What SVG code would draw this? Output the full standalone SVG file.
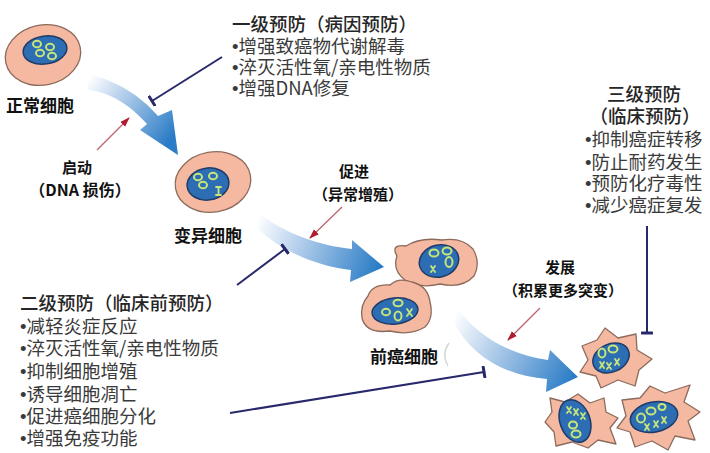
<svg xmlns="http://www.w3.org/2000/svg" width="710" height="453" viewBox="0 0 710 453">
<style>
.cell{fill:#f5b9a2;stroke:#8c6b5c;stroke-width:1.3;stroke-linejoin:round}
.nuc{fill:#2d6db3;stroke:#1f3b68;stroke-width:1.5}
.ring{fill:none;stroke:#c6e67a;stroke-width:2}
.chr{fill:none;stroke:#c6e67a;stroke-width:1.8;stroke-linecap:round}
.ptxt{font-family:"Noto Sans CJK SC","Noto Sans",sans-serif;font-size:18.5px;fill:#3a3a3a}
.phead{font-family:"Noto Sans CJK SC","Noto Sans",sans-serif;font-size:18.5px;fill:#262626;font-weight:500}
.b{font-family:"Liberation Sans",Arial,sans-serif}
.lbl{font-family:"Noto Sans CJK SC","Noto Sans",sans-serif;font-weight:bold;fill:#111;text-anchor:middle}
.bar{fill:none;stroke:#28286c;stroke-width:2;marker-end:url(#barEnd)}
.red{fill:none;stroke:#bd6470;stroke-width:1.3;marker-end:url(#redHead)}
</style>
<defs>
<linearGradient id="g1" gradientUnits="userSpaceOnUse" x1="88" y1="80" x2="170" y2="140">
<stop offset="0" stop-color="#ffffff"/><stop offset="0.35" stop-color="#b7d0ec"/><stop offset="1" stop-color="#2a7cc6"/>
</linearGradient>
<linearGradient id="g2" gradientUnits="userSpaceOnUse" x1="257" y1="220" x2="380" y2="265">
<stop offset="0" stop-color="#ffffff"/><stop offset="0.35" stop-color="#b7d0ec"/><stop offset="1" stop-color="#2a7cc6"/>
</linearGradient>
<linearGradient id="g3" gradientUnits="userSpaceOnUse" x1="455" y1="314" x2="575" y2="377">
<stop offset="0" stop-color="#ffffff"/><stop offset="0.35" stop-color="#b7d0ec"/><stop offset="1" stop-color="#2a7cc6"/>
</linearGradient>
<marker id="barEnd" viewBox="-3 -6 6 12" refX="0" refY="0" markerUnits="userSpaceOnUse" markerWidth="6" markerHeight="12" orient="auto">
<path d="M0,-5 L0,5" stroke="#28286c" stroke-width="3" stroke-linecap="round"/>
</marker>
<marker id="redHead" viewBox="0 -4 10 8" refX="9" refY="0" markerUnits="userSpaceOnUse" markerWidth="10" markerHeight="8" orient="auto">
<path d="M0,-3.5 L10,0 L0,3.5 Z" fill="#b01c30"/>
</marker>
</defs>
<rect width="710" height="453" fill="#ffffff"/>

<g id="flow-arrows">
<path d="M 88,74 C 115,80 140,95 158,116 L 172,110 L 178,155 L 140,130 L 147,124 C 130,105 110,92 88,90 Z" fill="url(#g1)"/>
<path d="M 257,211 C 280,232 320,246 352,249 L 352,240 L 384,267 L 350,282 L 351,270 C 315,266 280,250 257,228 Z" fill="url(#g2)"/>
<path d="M 456,306 C 475,335 510,355 548,360 L 550,350 L 578,377 L 546,392 L 547,379 C 505,376 470,355 454,322 Z" fill="url(#g3)"/>
</g>

<g id="normal-cell">
<ellipse class="cell" cx="43" cy="55" rx="38" ry="30" transform="rotate(-12 43 55)"/>
<ellipse class="nuc" cx="45" cy="50" rx="22" ry="14" transform="rotate(-8 45 50)"/>
<ellipse class="ring" cx="37" cy="44" rx="4" ry="3.3"/>
<ellipse class="ring" cx="50" cy="47" rx="4" ry="3.3"/>
<ellipse class="ring" cx="40" cy="53" rx="4" ry="3.3"/>
<ellipse class="ring" cx="52" cy="56" rx="4" ry="3.3"/>
<text class="lbl" x="40" y="112" font-size="17">正常细胞</text>
</g>

<g id="mutant-cell">
<ellipse class="cell" cx="213" cy="182" rx="38" ry="30" transform="rotate(-10 213 182)"/>
<ellipse class="nuc" cx="208" cy="184" rx="21" ry="16" transform="rotate(-8 208 184)"/>
<ellipse class="ring" cx="198" cy="177" rx="4" ry="3.3"/>
<ellipse class="ring" cx="213" cy="176" rx="4" ry="3.3"/>
<ellipse class="ring" cx="203" cy="185" rx="4" ry="3.3"/>
<path class="chr" d="M 216,187 L 221,187 M 218.5,187 L 218.5,195 M 216,195 L 221,195"/>
<text class="lbl" x="208" y="242" font-size="17">变异细胞</text>
</g>

<g id="precancer-cells">
<path class="cell" d="M 397,256 Q 390,244 406,246 Q 420,237 442,240 Q 462,237 473,249 Q 481,263 474,276 Q 462,289 440,284 Q 420,289 405,280 Q 392,270 397,256 Z"/>
<ellipse class="nuc" cx="439" cy="261" rx="20" ry="16" transform="rotate(-15 439 261)"/>
<ellipse class="ring" cx="434" cy="253" rx="4.5" ry="3.5"/>
<ellipse class="ring" cx="447" cy="251" rx="4.5" ry="3.5"/>
<ellipse class="ring" cx="449" cy="262" rx="3.5" ry="5"/>
<path class="chr" d="M 431,266 L 435,272 M 435,266 L 431,272"/>
<path class="cell" d="M 368,296 Q 372,284 390,285 Q 398,277 412,282 Q 428,286 430,302 Q 434,318 425,327 Q 410,336 390,331 Q 366,334 362,318 Q 360,305 368,296 Z"/>
<ellipse class="nuc" cx="395" cy="311" rx="23" ry="13" transform="rotate(-6 395 311)"/>
<ellipse class="ring" cx="386" cy="312" rx="4" ry="3.3"/>
<ellipse class="ring" cx="398" cy="303" rx="4.5" ry="3.3"/>
<ellipse class="ring" cx="398" cy="316" rx="3.5" ry="4.5"/>
<path class="chr" d="M 407,309 L 412,316 M 412,309 L 407,316"/>
<text class="lbl" x="404" y="363" font-size="17">前癌细胞</text>
<path d="M 449,343 Q 441,354 448,366" fill="none" stroke="#d4d4d4" stroke-width="1.3"/>
</g>

<g id="cancer-cells">
<path class="cell" d="M 582,346 L 597,340 L 605,328 L 618,338 L 636,334 L 637,350 L 652,359 L 639,370 L 635,386 L 618,380 L 601,388 L 596,376 L 580,372 L 588,360 Z"/>
<ellipse class="nuc" cx="611" cy="358" rx="19" ry="14" transform="rotate(-25 611 358)"/>
<ellipse class="ring" cx="602" cy="353" rx="3.5" ry="4.5"/>
<ellipse class="ring" cx="613" cy="349" rx="4.5" ry="3.5"/>
<path class="chr" d="M 600,362 L 604,368 M 604,362 L 600,368 M 607,363 L 611,369 M 611,363 L 607,369 M 615,359 L 619,365 M 619,359 L 615,365"/>
<path class="cell" d="M 550,398 L 565,402 L 578,394 L 590,403 L 604,398 L 606,412 L 618,418 L 610,428 L 616,444 L 598,440 L 588,448 L 572,442 L 556,446 L 554,432 L 545,422 L 552,412 Z"/>
<ellipse class="nuc" cx="575" cy="421" rx="15" ry="22" transform="rotate(-20 575 421)"/>
<path class="chr" d="M 567,407 L 571,413 M 571,407 L 567,413 M 574,409 L 578,415 M 578,409 L 574,415 M 581,413 L 585,419 M 585,413 L 581,419"/>
<ellipse class="ring" cx="573" cy="425" rx="4" ry="3.5"/>
<ellipse class="ring" cx="576" cy="434" rx="4.5" ry="3.5"/>
<path class="cell" d="M 622,400 L 640,398 L 650,386 L 665,393 L 690,385 L 684,402 L 700,412 L 688,421 L 695,440 L 675,436 L 668,450 L 652,441 L 635,447 L 630,432 L 617,428 L 626,416 Z"/>
<ellipse class="nuc" cx="654" cy="417" rx="24" ry="15" transform="rotate(-12 654 417)"/>
<ellipse class="ring" cx="641" cy="418" rx="4" ry="4.5"/>
<ellipse class="ring" cx="651" cy="411" rx="4.5" ry="3.5"/>
<ellipse class="ring" cx="662" cy="407" rx="3.5" ry="3"/>
<path class="chr" d="M 645,424 L 649,430 M 649,424 L 645,430 M 654,421 L 658,427 M 658,421 L 654,427 M 662,417 L 666,423 M 666,417 L 662,423"/>
</g>

<g id="trigger-labels">
<text class="lbl" x="77" y="173" font-size="15">启动</text>
<text class="lbl" x="80" y="196" font-size="16">（DNA 损伤）</text>
<text class="lbl" x="354" y="177" font-size="15">促进</text>
<text class="lbl" x="358" y="200" font-size="15">（异常增殖）</text>
<text class="lbl" x="560" y="273" font-size="15">发展</text>
<text class="lbl" x="563" y="296" font-size="15">（积累更多突变）</text>
</g>

<g id="primary-prevention">
<text class="phead" x="232" y="31">一级预防（病因预防）</text>
<text class="ptxt" x="232" y="53"><tspan class="b">•</tspan>增强致癌物代谢解毒</text>
<text class="ptxt" x="232" y="74"><tspan class="b">•</tspan>淬灭活性氧/亲电性物质</text>
<text class="ptxt" x="232" y="95"><tspan class="b">•</tspan>增强DNA修复</text>
</g>

<g id="secondary-prevention">
<text class="phead" x="20" y="310">二级预防（临床前预防）</text>
<text class="ptxt" x="20" y="333"><tspan class="b">•</tspan>减轻炎症反应</text>
<text class="ptxt" x="20" y="355"><tspan class="b">•</tspan>淬灭活性氧/亲电性物质</text>
<text class="ptxt" x="20" y="378"><tspan class="b">•</tspan>抑制细胞增殖</text>
<text class="ptxt" x="20" y="401"><tspan class="b">•</tspan>诱导细胞凋亡</text>
<text class="ptxt" x="20" y="423"><tspan class="b">•</tspan>促进癌细胞分化</text>
<text class="ptxt" x="20" y="445"><tspan class="b">•</tspan>增强免疫功能</text>
</g>

<g id="tertiary-prevention">
<text class="phead" x="644" y="101" text-anchor="middle">三级预防</text>
<text class="phead" x="645" y="123" text-anchor="middle">（临床预防）</text>
<text class="ptxt" x="585" y="146"><tspan class="b">•</tspan>抑制癌症转移</text>
<text class="ptxt" x="585" y="169"><tspan class="b">•</tspan>防止耐药发生</text>
<text class="ptxt" x="585" y="190"><tspan class="b">•</tspan>预防化疗毒性</text>
<text class="ptxt" x="585" y="212"><tspan class="b">•</tspan>减少癌症复发</text>
</g>

<g id="connectors">
<line class="bar" x1="222" y1="57" x2="152" y2="101"/>
<line class="bar" x1="237" y1="285" x2="285" y2="249"/>
<line class="bar" x1="230" y1="413" x2="484" y2="372"/>
<line class="bar" x1="647" y1="226" x2="647" y2="333"/>
<line class="red" x1="97" y1="150" x2="129" y2="118"/>
<line class="red" x1="342" y1="207" x2="310" y2="238"/>
<line class="red" x1="540" y1="308" x2="508" y2="340"/>
</g>
</svg>
